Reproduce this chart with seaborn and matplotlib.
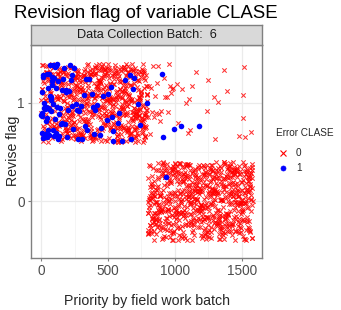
import numpy as np
import pandas as pd
import matplotlib
matplotlib.use("Agg")
import matplotlib.pyplot as plt
import seaborn as sns
from matplotlib.lines import Line2D

# ---------------- data ----------------
N_UNITS = 1580                      # units ranked by field-work priority 1..N
REVISE_CUTOFF = 795                 # units with priority <= cutoff are flagged for revision
EXTRA_REVISED = [805, 812, 820, 828, 836, 845, 852, 860, 866, 873, 881, 888,
                 896, 903, 910, 918, 925, 940, 948, 955, 963, 970, 978, 985,
                 993, 1015, 1022, 1045, 1052, 1082, 1097, 1104, 1112, 1127,
                 1157, 1179, 1239, 1246, 1291, 1299, 1321, 1366, 1388, 1478,
                 1507, 1510, 1515, 1520, 1567]
ERROR_PRIORITIES = [2, 4, 6, 8, 10, 12, 15, 17, 20, 24, 27, 30, 33, 35, 38,
                    41, 44, 47, 50, 52, 55, 58, 61, 63, 66, 69, 72, 75, 78,
                    80, 83, 85, 88, 91, 93, 97, 99, 101, 104, 108, 112, 115,
                    118, 122, 126, 128, 131, 134, 140, 147, 153, 159, 166,
                    172, 178, 184, 190, 197, 203, 209, 216, 221, 228, 234,
                    240, 246, 258, 271, 277, 284, 296, 309, 321, 328, 333,
                    346, 358, 381, 386, 396, 403, 420, 440, 445, 460, 495,
                    502, 520, 527, 535, 540, 577, 584, 602, 627, 664, 670,
                    684, 694, 726, 739, 793, 903, 910, 933, 993, 1045, 1179]
X_TICKS = [0, 500, 1000, 1500]
Y_TICKS = [0, 1]
ERROR_LEVELS = ["0", "1"]
TITLE = "Revision flag of variable CLASE"
STRIP = "Data Collection Batch:  6"

priority = np.arange(1, N_UNITS + 1)
revise = ((priority <= REVISE_CUTOFF) | np.isin(priority, EXTRA_REVISED)).astype(int)
error = np.isin(priority, ERROR_PRIORITIES).astype(int)

# vertical jitter (geom_jitter, height 0.4) - positional only
rng = np.random.default_rng(6)
df = pd.DataFrame({"priority": priority, "revise": revise,
                   "error": error.astype(str)})
df["y"] = df["revise"] + rng.uniform(-0.4, 0.4, len(df))

# ---------------- plot ----------------
sns.set_style("white")
plt.rcParams["font.family"] = ["Liberation Sans", "DejaVu Sans"]

W, H = 341, 310
fig = plt.figure(figsize=(W / 100, H / 100), dpi=100)
L, R, T, B = 31, 262, 45, 258
ax = fig.add_axes([L / W, 1 - B / H, (R - L) / W, (B - T) / H])

sns.scatterplot(data=df[df.error == "0"], x="priority", y="y", ax=ax,
                color="#FF0000", marker="x", s=10, linewidth=0.75,
                alpha=0.8, legend=False, zorder=3)
sns.scatterplot(data=df[df.error == "1"], x="priority", y="y", ax=ax,
                color="#0000FF", marker="o", s=16, linewidth=0,
                legend=False, zorder=4)

ax.set_xlim(-75, 1650)
ax.set_ylim(-0.58, 1.59)
ax.set_xticks(X_TICKS)
ax.set_xticklabels([str(t) for t in X_TICKS])
ax.set_yticks(Y_TICKS)
ax.set_yticklabels([str(t) for t in Y_TICKS])
ax.set_xticks([250, 750, 1250], minor=True)
ax.set_yticks([0.5], minor=True)
ax.grid(True, which="major", color="#EBEBEB", linewidth=0.9, zorder=0)
ax.grid(True, which="minor", color="#F4F4F4", linewidth=0.6, zorder=0)
ax.set_axisbelow(True)
for sp in ax.spines.values():
    sp.set_color("#808080")
    sp.set_linewidth(1.0)
ax.tick_params(axis="both", which="major", length=2.5, width=0.8,
               color="#808080", labelsize=9.8, labelcolor="#4D4D4D", pad=2,
               left=True, bottom=True)
ax.tick_params(axis="both", which="minor", length=0)
ax.set_xlabel("Priority by field work batch", fontsize=10.2, labelpad=11)
ax.set_ylabel("")
fig.text(13 / W, 1 - 151 / H, "Revise flag", rotation=90, ha="center",
         va="center", fontsize=10.2)

# facet strip
strip_ax = fig.add_axes([L / W, 1 - T / H, (R - L) / W, 20 / H])
strip_ax.set_xticks([]); strip_ax.set_yticks([])
strip_ax.set_facecolor("#D9D9D9")
for sp in strip_ax.spines.values():
    sp.set_color("#808080")
    sp.set_linewidth(1.0)
strip_ax.text(0.5, 0.5, STRIP, ha="center", va="center", fontsize=9.2,
              color="#1A1A1A", transform=strip_ax.transAxes)

# title
fig.text(14 / W, 1 - 13 / H, TITLE, ha="left", va="center", fontsize=13.4,
         color="black")

# legend (manual, ggplot style)
fig.text(276 / W, 1 - 133 / H, "Error CLASE", ha="left", va="center",
         fontsize=7.2)
leg_style = [("x", "#FF0000", 4.0, 0.8), ("o", "#0000FF", 3.6, 0)]
for i, (lab, (mk, col, ms, lw)) in enumerate(zip(ERROR_LEVELS, leg_style)):
    yy = 1 - (153 + 15 * i) / H
    fig.add_artist(Line2D([283 / W], [yy], transform=fig.transFigure,
                          marker=mk, color=col, markersize=ms,
                          markeredgewidth=lw if lw else 0.5, linestyle="none"))
    fig.text(296 / W, yy, lab, ha="left", va="center", fontsize=7.2)

fig.savefig("out.png", dpi=100)
